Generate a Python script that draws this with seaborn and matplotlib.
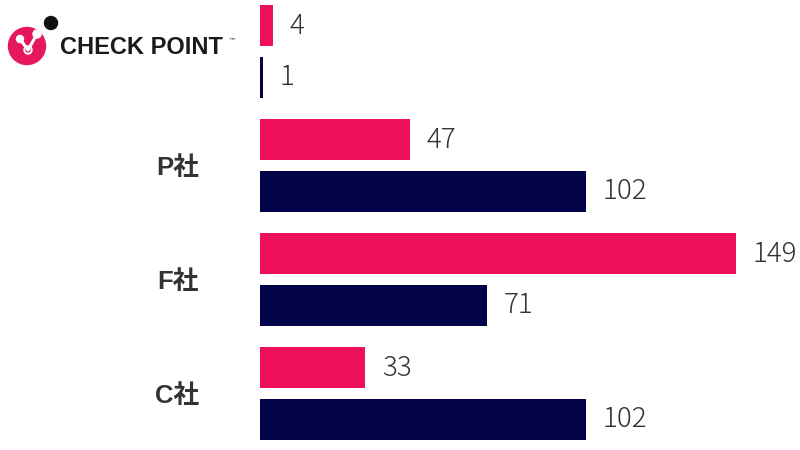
import matplotlib
matplotlib.use("Agg")
import matplotlib.pyplot as plt
from matplotlib.patches import Circle
import seaborn as sns
import pandas as pd

# data
companies = ["Check Point", "P社", "F社", "C社"]
tick_labels = ["", "P社", "F社", "C社"]   # first row uses the logo instead
series_a = [4, 47, 149, 33]
series_b = [1, 102, 71, 102]
series_names = ["A", "B"]
colors = ["#EE1059", "#03034A"]

df = pd.DataFrame({
    "company": companies * 2,
    "value": series_a + series_b,
    "series": [series_names[0]] * 4 + [series_names[1]] * 4,
})

sns.set_theme(style="white")
plt.rcParams["font.family"] = ["Noto Sans CJK JP", "DejaVu Sans"]

fig = plt.figure(figsize=(8, 4.5), dpi=100)
ax = fig.add_axes([260 / 800, 0, 540 / 800, 1])

sns.barplot(data=df, y="company", x="value", hue="series", order=companies,
            hue_order=series_names, palette=colors, orient="h",
            width=0.912, gap=0.23, legend=False, saturation=1,
            linewidth=0, ax=ax)

ax.set_xlim(0, 149 * 540 / 476)
ax.set_ylim((450 - 51.5) / 114, -51.5 / 114)
for s in ax.spines.values():
    s.set_visible(False)
ax.set_xticks([])
ax.set_xlabel("")
ax.set_ylabel("")
ax.set_yticks(range(len(companies)))
ax.set_yticklabels(tick_labels, fontsize=18.5, fontweight="bold", color="#333333",
                   family=["Liberation Sans", "Noto Sans CJK JP"])
ax.tick_params(axis="y", length=0, pad=44)

for cont in ax.containers:
    ax.bar_label(cont, padding=12, fontsize=20, color="#333333", fontweight="light")

# Check Point logo, drawn in pixel coordinates
lg = fig.add_axes([0, 0, 1, 1], zorder=5)
lg.set_xlim(0, 800)
lg.set_ylim(450, 0)
lg.axis("off")
lg.patch.set_alpha(0)
lg.add_patch(Circle((27, 46), 18.5, color="#E5185D"))
lg.add_patch(Circle((51, 23), 9.5, color="white"))
lg.add_patch(Circle((51, 23), 6.5, color="#111111"))
lg.plot([20, 28, 37], [39, 50, 34], color="white", lw=2.2, solid_capstyle="round")
lg.add_patch(Circle((37, 34), 4, color="white"))
lg.add_patch(Circle((28, 50), 4, color="white"))
lg.add_patch(Circle((28, 50), 2, color="#E5185D"))
lg.add_patch(Circle((20, 39), 3.5, color="white"))
lg.text(60, 48, "CHECK POINT", fontsize=17, fontweight="bold", color="#1a1a1a",
        va="center", ha="left", family=["Liberation Sans", "DejaVu Sans"])
lg.text(229, 40, "™", fontsize=5, color="#1a1a1a", va="center", ha="left",
        family=["DejaVu Sans"])

fig.savefig("out.png", dpi=100)
